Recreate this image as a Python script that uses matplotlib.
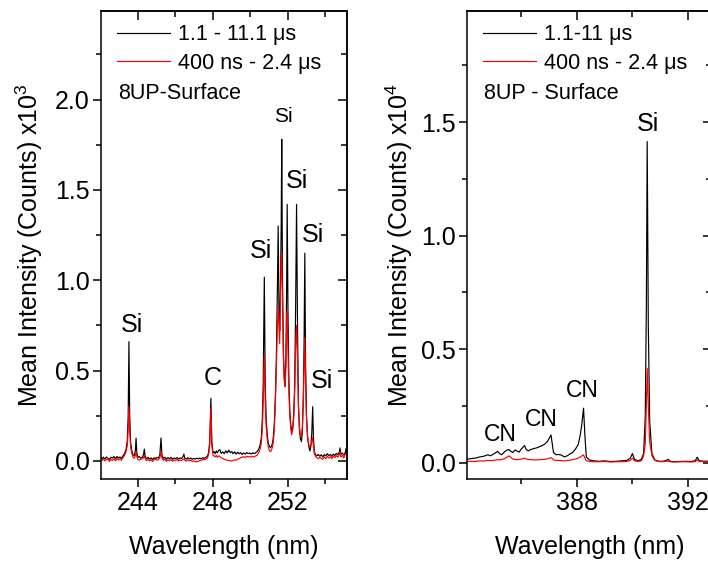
import matplotlib
matplotlib.use("Agg")
import matplotlib.pyplot as plt
from matplotlib.ticker import MultipleLocator, FormatStrFormatter

plt.rcParams["font.family"] = ["Liberation Sans", "DejaVu Sans"]
plt.rcParams["mathtext.fontset"] = "custom"
plt.rcParams["mathtext.rm"] = "Liberation Sans"
plt.rcParams["mathtext.it"] = "Liberation Sans:italic"

# ---- Si / C region (counts x 10^3) ----
left_wl = [
    242.00, 242.08, 242.16, 242.24, 242.32, 242.40, 242.48, 242.56,
    242.64, 242.72, 242.80, 242.88, 242.96, 243.04, 243.12, 243.20,
    243.28, 243.36, 243.43, 243.48, 243.52, 243.56, 243.61, 243.67,
    243.73, 243.80, 243.86, 243.90, 243.94, 244.00, 244.08, 244.16,
    244.24, 244.30, 244.34, 244.38, 244.46, 244.54, 244.62, 244.70,
    244.78, 244.86, 244.94, 245.02, 245.10, 245.17, 245.23, 245.28,
    245.36, 245.44, 245.52, 245.60, 245.68, 245.76, 245.84, 245.92,
    246.00, 246.08, 246.16, 246.24, 246.32, 246.40, 246.45, 246.50,
    246.58, 246.66, 246.74, 246.82, 246.90, 246.98, 247.06, 247.14,
    247.22, 247.30, 247.38, 247.46, 247.54, 247.62, 247.70, 247.77,
    247.83, 247.89, 247.94, 248.00, 248.06, 248.12, 248.18, 248.24,
    248.30, 248.37, 248.44, 248.52, 248.60, 248.68, 248.76, 248.84,
    248.92, 249.00, 249.08, 249.16, 249.24, 249.32, 249.40, 249.48,
    249.56, 249.64, 249.72, 249.80, 249.88, 249.96, 250.04, 250.12,
    250.20, 250.28, 250.36, 250.44, 250.52, 250.58, 250.63, 250.68,
    250.74, 250.79, 250.84, 250.90, 250.96, 251.02, 251.08, 251.13,
    251.18, 251.23, 251.28, 251.33, 251.38, 251.43, 251.48, 251.52,
    251.56, 251.60, 251.64, 251.67, 251.71, 251.76, 251.81, 251.85,
    251.89, 251.93, 251.96, 252.00, 252.05, 252.10, 252.15, 252.20,
    252.26, 252.31, 252.36, 252.41, 252.46, 252.51, 252.56, 252.61,
    252.66, 252.72, 252.77, 252.82, 252.86, 252.90, 252.94, 252.99,
    253.05, 253.11, 253.17, 253.22, 253.27, 253.32, 253.36, 253.41,
    253.47, 253.54, 253.62, 253.70, 253.78, 253.86, 253.94, 254.02,
    254.10, 254.18, 254.26, 254.34, 254.42, 254.50, 254.58, 254.66,
    254.74, 254.78, 254.82, 254.90, 254.98, 255.06, 255.10, 255.14,
    255.20,
]
left_late = [  # 1.1 - 11.1 us gate
    0.018, 0.012, 0.021, 0.010, 0.022, 0.014, 0.008, 0.020,
    0.016, 0.024, 0.012, 0.025, 0.016, 0.022, 0.014, 0.028,
    0.040, 0.060, 0.110, 0.250, 0.660, 0.260, 0.100, 0.060,
    0.035, 0.030, 0.055, 0.126, 0.045, 0.020, 0.024, 0.014,
    0.022, 0.035, 0.066, 0.028, 0.012, 0.020, 0.010, 0.017,
    0.008, 0.018, 0.012, 0.020, 0.016, 0.035, 0.127, 0.032,
    0.014, 0.020, 0.010, 0.018, 0.012, 0.020, 0.009, 0.016,
    0.012, 0.019, 0.010, 0.017, 0.013, 0.024, 0.038, 0.015,
    0.010, 0.018, 0.011, 0.016, 0.009, 0.014, 0.010, 0.015,
    0.012, 0.016, 0.011, 0.018, 0.014, 0.020, 0.025, 0.045,
    0.110, 0.347, 0.110, 0.045, 0.052, 0.040, 0.055, 0.045,
    0.058, 0.062, 0.042, 0.050, 0.040, 0.056, 0.044, 0.060,
    0.046, 0.052, 0.040, 0.050, 0.038, 0.048, 0.040, 0.046,
    0.036, 0.044, 0.038, 0.046, 0.040, 0.044, 0.038, 0.045,
    0.040, 0.046, 0.052, 0.065, 0.090, 0.130, 0.220, 0.420,
    1.017, 0.420, 0.230, 0.140, 0.095, 0.078, 0.075, 0.082,
    0.100, 0.140, 0.220, 0.360, 0.560, 0.900, 1.300, 0.850,
    0.720, 0.950, 1.300, 1.780, 1.000, 0.600, 0.450, 0.430,
    0.560, 0.950, 1.420, 0.850, 0.450, 0.280, 0.200, 0.162,
    0.190, 0.260, 0.420, 0.850, 1.420, 0.750, 0.320, 0.180,
    0.125, 0.107, 0.160, 0.350, 0.650, 1.150, 0.550, 0.250,
    0.130, 0.080, 0.055, 0.080, 0.150, 0.300, 0.130, 0.050,
    0.035, 0.028, 0.036, 0.026, 0.034, 0.022, 0.035, 0.028,
    0.040, 0.030, 0.036, 0.026, 0.038, 0.030, 0.042, 0.034,
    0.050, 0.072, 0.036, 0.044, 0.032, 0.048, 0.070, 0.040,
    0.046,
]
left_early = [  # 400 ns - 2.4 us gate
    0.008, 0.002, 0.010, 0.000, 0.007, 0.012, -0.003, 0.008,
    0.003, 0.011, 0.001, 0.013, 0.005, 0.012, 0.004, 0.018,
    0.030, 0.048, 0.085, 0.170, 0.300, 0.170, 0.075, 0.045,
    0.022, 0.015, 0.028, 0.050, 0.025, 0.008, 0.004, 0.010,
    0.012, 0.018, 0.030, 0.014, 0.002, 0.008, 0.000, 0.007,
    -0.003, 0.006, 0.010, 0.004, 0.008, 0.018, 0.050, 0.016,
    0.004, 0.009, -0.002, 0.006, 0.001, 0.008, -0.002, 0.005,
    0.002, 0.008, 0.000, 0.006, 0.002, 0.008, 0.012, 0.004,
    -0.001, 0.006, 0.001, 0.004, -0.003, 0.000, -0.005, -0.004,
    -0.002, 0.002, 0.004, 0.008, 0.006, 0.010, 0.015, 0.035,
    0.090, 0.290, 0.090, 0.032, 0.030, 0.022, 0.030, 0.020,
    0.028, 0.024, 0.018, 0.014, 0.010, 0.006, 0.004, 0.002,
    0.001, 0.000, 0.003, 0.006, 0.004, 0.010, 0.012, 0.018,
    0.020, 0.024, 0.018, 0.026, 0.022, 0.025, 0.020, 0.026,
    0.022, 0.028, 0.032, 0.045, 0.068, 0.100, 0.170, 0.320,
    0.587, 0.330, 0.190, 0.115, 0.075, 0.055, 0.052, 0.062,
    0.080, 0.115, 0.190, 0.320, 0.500, 0.720, 0.845, 0.740,
    0.650, 0.900, 1.100, 1.150, 0.900, 0.560, 0.430, 0.410,
    0.520, 0.720, 0.826, 0.640, 0.380, 0.250, 0.180, 0.144,
    0.175, 0.240, 0.380, 0.620, 0.750, 0.560, 0.300, 0.190,
    0.145, 0.135, 0.190, 0.340, 0.520, 0.680, 0.450, 0.230,
    0.130, 0.090, 0.075, 0.085, 0.105, 0.130, 0.085, 0.040,
    0.025, 0.018, 0.012, 0.020, 0.014, 0.010, 0.022, 0.012,
    0.026, 0.016, 0.024, 0.012, 0.028, 0.018, 0.030, 0.020,
    0.035, 0.052, 0.022, 0.030, 0.016, 0.038, 0.045, 0.028,
    0.030,
]

# ---- CN / Si region (counts x 10^4) ----
right_wl = [
    384.05, 384.20, 384.35, 384.50, 384.65, 384.80, 384.90, 385.00,
    385.10, 385.15, 385.22, 385.30, 385.40, 385.48, 385.56, 385.62,
    385.70, 385.78, 385.86, 385.93, 386.00, 386.08, 386.12, 386.18,
    386.25, 386.35, 386.45, 386.55, 386.65, 386.75, 386.85, 386.95,
    387.02, 387.07, 387.12, 387.16, 387.25, 387.35, 387.45, 387.55,
    387.65, 387.75, 387.85, 387.95, 388.05, 388.12, 388.18, 388.24,
    388.29, 388.34, 388.45, 388.60, 388.80, 389.00, 389.20, 389.40,
    389.60, 389.80, 389.92, 390.00, 390.07, 390.20, 390.32, 390.40,
    390.46, 390.50, 390.53, 390.57, 390.62, 390.70, 390.80, 390.95,
    391.10, 391.22, 391.28, 391.35, 391.50, 391.70, 391.90, 392.10,
    392.25, 392.33, 392.40, 392.60, 392.80, 393.00,
]
right_late = [  # 1.1 - 11 us gate
    0.015, 0.018, 0.020, 0.025, 0.028, 0.035, 0.030, 0.038,
    0.045, 0.050, 0.040, 0.035, 0.048, 0.055, 0.058, 0.050,
    0.045, 0.056, 0.050, 0.047, 0.060, 0.070, 0.075, 0.058,
    0.052, 0.058, 0.062, 0.065, 0.070, 0.075, 0.082, 0.095,
    0.110, 0.122, 0.080, 0.045, 0.035, 0.036, 0.033, 0.025,
    0.030, 0.038, 0.045, 0.060, 0.080, 0.120, 0.170, 0.240,
    0.120, 0.025, 0.012, 0.008, 0.006, 0.008, 0.005, 0.006,
    0.008, 0.010, 0.020, 0.040, 0.015, 0.008, 0.015, 0.040,
    0.200, 0.700, 1.415, 0.600, 0.180, 0.040, 0.012, 0.006,
    0.006, 0.010, 0.015, 0.006, 0.004, 0.005, 0.006, 0.005,
    0.008, 0.024, 0.008, 0.006, 0.007, 0.006,
]
right_early = [  # 400 ns - 2.4 us gate
    0.005, 0.006, 0.005, 0.008, 0.007, 0.010, 0.009, 0.010,
    0.012, 0.013, 0.012, 0.014, 0.018, 0.024, 0.030, 0.024,
    0.016, 0.014, 0.013, 0.014, 0.016, 0.018, 0.020, 0.016,
    0.014, 0.013, 0.012, 0.012, 0.013, 0.014, 0.015, 0.017,
    0.020, 0.022, 0.018, 0.012, 0.010, 0.010, 0.009, 0.008,
    0.009, 0.011, 0.013, 0.016, 0.020, 0.025, 0.030, 0.034,
    0.020, 0.008, 0.006, 0.004, 0.004, 0.005, 0.003, 0.004,
    0.004, 0.005, 0.010, 0.020, 0.008, 0.005, 0.008, 0.030,
    0.080, 0.250, 0.416, 0.250, 0.090, 0.030, 0.010, 0.005,
    0.004, 0.006, 0.007, 0.004, 0.003, 0.004, 0.004, 0.003,
    0.004, 0.012, 0.005, 0.004, 0.004, 0.004,
]

assert len(left_wl) == len(left_late) == len(left_early)
assert len(right_wl) == len(right_late) == len(right_early)

left_labels = ["1.1 - 11.1 \u03bcs", "400 ns - 2.4 \u03bcs"]
right_labels = ["1.1-11 \u03bcs", "400 ns - 2.4 \u03bcs"]

# peak identifications: (wavelength, height, text, fontsize)
left_peaks = [
    (243.70, 0.75, "Si", 18),
    (247.97, 0.46, "C", 18),
    (250.56, 1.16, "Si", 18),
    (251.73, 1.905, "Si", 15),
    (252.50, 1.55, "Si", 18),
    (253.36, 1.25, "Si", 18),
    (253.84, 0.44, "Si", 18),
]
right_peaks = [
    (385.23, 0.122, "CN", 16.5),
    (386.73, 0.188, "CN", 16.5),
    (388.18, 0.32, "CN", 16.5),
    (390.56, 1.493, "Si", 18),
]

W, H = 708, 562
fig = plt.figure(figsize=(W / 100, H / 100), dpi=100)

TICK_FS = 18
LABEL_FS = 18
LEG_FS = 15.5


def style_axes(ax, xmaj, xmin, ymaj, ymin):
    for s in ax.spines.values():
        s.set_linewidth(1.1)
    ax.xaxis.set_major_locator(MultipleLocator(xmaj))
    ax.xaxis.set_minor_locator(MultipleLocator(xmin))
    ax.yaxis.set_major_locator(MultipleLocator(ymaj))
    ax.yaxis.set_minor_locator(MultipleLocator(ymin))
    ax.yaxis.set_major_formatter(FormatStrFormatter("%.1f"))
    ax.xaxis.set_major_formatter(FormatStrFormatter("%d"))
    ax.tick_params(which="major", direction="out", length=6, width=1.1,
                   labelsize=TICK_FS, pad=2)
    ax.tick_params(which="minor", direction="out", length=3.3, width=1.1)
    ax.tick_params(axis="x", which="major", pad=3)
    top = ax.secondary_xaxis("top")
    top.xaxis.set_major_locator(MultipleLocator(xmaj))
    top.xaxis.set_minor_locator(MultipleLocator(xmin))
    top.tick_params(which="major", direction="in", length=6.5, width=1.1,
                    labeltop=False)
    top.tick_params(which="minor", direction="in", length=4, width=1.1)
    right = ax.secondary_yaxis("right")
    right.yaxis.set_major_locator(MultipleLocator(ymaj))
    right.yaxis.set_minor_locator(MultipleLocator(ymin))
    right.tick_params(which="major", direction="in", length=6.5, width=1.1,
                      labelright=False)
    right.tick_params(which="minor", direction="in", length=4, width=1.1)
    for s in list(top.spines.values()) + list(right.spines.values()):
        s.set_linewidth(1.1)


def draw_panel(rect, wl, late, early, labels, tag, peaks, xlim, ylim, exp,
               ylabelpad):
    ax = fig.add_axes(rect)
    l1, = ax.plot(wl, late, color="black", lw=0.85)
    l2, = ax.plot(wl, early, color="#ff0000", lw=0.85)
    ax.set_xlim(*xlim)
    ax.set_ylim(*ylim)
    ax.set_xlabel("Wavelength (nm)", fontsize=LABEL_FS, labelpad=14)
    ax.set_ylabel("Mean Intensity (Counts) x10$^{%d}$" % exp,
                  fontsize=LABEL_FS, labelpad=ylabelpad)
    ax.legend([l1, l2], labels, loc="upper left",
              bbox_to_anchor=(0.065, 0.972), frameon=False,
              fontsize=LEG_FS, handlelength=2.45, handletextpad=0.4,
              labelspacing=0.35, borderpad=0, borderaxespad=0)
    ax.text(0.068, 0.823, tag, transform=ax.transAxes, fontsize=LEG_FS,
            ha="left", va="center")
    for x, y, t, fs in peaks:
        ax.text(x, y, t, fontsize=fs, ha="center", va="center")
    return ax


bottom = 1 - 479 / H
height = 468 / H
axL = draw_panel([101 / W, bottom, 246 / W, height],
                 left_wl, left_late, left_early, left_labels,
                 "8UP-Surface", left_peaks, (242.03, 255.15), (-0.1, 2.49), 3,
                 7.5)
style_axes(axL, 4, 2, 0.5, 0.25)

axR = draw_panel([467 / W, bottom, 245 / W, height],
                 right_wl, right_late, right_early, right_labels,
                 "8UP - Surface", right_peaks, (384.05, 392.86),
                 (-0.072, 1.99), 4, 4)
style_axes(axR, 4, 2, 0.5, 0.25)

fig.savefig("out.png", dpi=100)
